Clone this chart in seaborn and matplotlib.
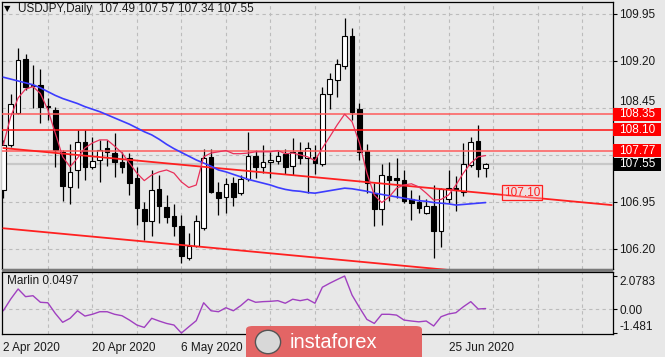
import numpy as np
import pandas as pd
import matplotlib
matplotlib.use("Agg")
import matplotlib.pyplot as plt
import seaborn as sns
from matplotlib.patches import Rectangle, FancyBboxPatch, Circle
import matplotlib.transforms as mtrans

# USDJPY diario, velas (abr-jul 2020)
opens = [107.14, 107.86, 108.37, 109.23, 108.80, 108.82, 108.48, 108.42, 107.75, 107.19,
         107.46, 107.91, 107.51, 107.62, 107.81, 107.73, 107.59, 107.65, 107.33, 106.83,
         106.65, 107.16, 106.87, 106.73, 106.56, 106.05, 106.24, 106.53, 107.67, 107.11,
         107.03, 107.25, 107.09, 107.31, 107.68, 107.51, 107.59, 107.61, 107.71, 107.52,
         107.74, 107.65, 107.67, 107.56, 108.68, 108.89, 109.12, 109.60, 108.43, 107.76,
         107.10, 106.83, 107.37, 107.33, 107.30, 106.99, 106.95, 106.77, 106.88, 106.48,
         106.99, 107.18, 107.11, 107.54, 107.93, 107.49]
highs = [107.94, 108.68, 109.40, 109.31, 109.14, 109.07, 108.61, 108.47, 107.78, 107.88,
         108.09, 108.09, 107.99, 107.94, 107.94, 108.05, 107.75, 107.73, 107.51, 106.95,
         107.46, 107.38, 107.06, 106.92, 106.74, 106.45, 106.74, 107.79, 107.79, 107.27,
         107.33, 107.35, 107.38, 108.07, 107.78, 107.86, 107.75, 107.78, 107.79, 107.97,
         107.91, 107.91, 107.86, 108.79, 109.00, 109.23, 109.88, 109.72, 108.53, 107.87,
         107.26, 107.56, 107.58, 107.65, 107.46, 107.14, 107.06, 106.99, 107.22, 107.17,
         107.46, 107.36, 107.89, 107.99, 108.18, 107.57]
lows = [107.01, 107.82, 108.35, 108.74, 108.45, 108.21, 108.26, 107.51, 106.97, 106.92,
        107.18, 107.30, 107.48, 107.27, 107.52, 107.35, 107.41, 107.06, 106.58, 106.34,
        106.40, 106.61, 106.61, 106.40, 105.97, 106.02, 106.23, 106.50, 107.10, 106.74,
        106.77, 106.88, 107.06, 107.29, 107.33, 107.41, 107.33, 107.56, 107.40, 107.38,
        107.56, 107.10, 107.40, 107.52, 108.43, 108.62, 109.07, 108.26, 107.62, 107.10,
        106.57, 106.58, 106.97, 107.01, 106.94, 106.66, 106.77, 106.76, 106.05, 106.23,
        106.93, 106.80, 107.05, 107.51, 107.35, 107.34]
closes = [107.86, 108.51, 109.22, 108.79, 108.82, 108.46, 108.47, 107.78, 107.21, 107.43,
          107.90, 107.51, 107.60, 107.78, 107.74, 107.58, 107.50, 107.25, 106.85, 106.64,
          107.14, 106.89, 106.71, 106.57, 106.08, 106.25, 106.64, 107.65, 107.11, 107.01,
          107.24, 107.03, 107.31, 107.69, 107.51, 107.58, 107.62, 107.69, 107.51, 107.74,
          107.65, 107.81, 107.57, 108.67, 108.91, 109.15, 109.60, 108.39, 107.74, 107.25,
          106.83, 107.38, 107.30, 107.30, 106.97, 106.94, 106.85, 106.89, 106.49, 107.15,
          107.17, 107.14, 107.56, 107.91, 107.47, 107.55]

# media lenta (azul) y media rapida (roja)
ma_slow = [108.94, 108.91, 108.88, 108.85, 108.82, 108.77, 108.71, 108.65, 108.60, 108.56,
           108.52, 108.47, 108.43, 108.39, 108.34, 108.29, 108.24, 108.19, 108.13, 108.07,
           108.02, 107.95, 107.87, 107.80, 107.74, 107.68, 107.62, 107.57, 107.52, 107.46,
           107.43, 107.39, 107.35, 107.31, 107.28, 107.25, 107.22, 107.18, 107.15, 107.13,
           107.12, 107.10, 107.09, 107.11, 107.13, 107.15, 107.17, 107.16, 107.14, 107.12,
           107.09, 107.07, 107.05, 107.03, 107.01, 106.99, 106.97, 106.96, 106.94, 106.93,
           106.92, 106.90, 106.91, 106.92, 106.93, 106.94]
ma_fast = [107.86, 108.31, 108.61, 108.75, 108.79, 108.68, 108.42, 108.05, 107.67, 107.51,
           107.65, 107.81, 107.89, 107.94, 107.94, 107.84, 107.73, 107.57, 107.41, 107.29,
           107.38, 107.43, 107.46, 107.41, 107.27, 107.18, 107.22, 107.67, 107.73, 107.75,
           107.77, 107.72, 107.72, 107.73, 107.75, 107.75, 107.75, 107.77, 107.72, 107.73,
           107.70, 107.67, 107.61, 107.81, 107.99, 108.18, 108.35, 108.23, 107.89, 107.41,
           107.06, 106.94, 107.03, 107.17, 107.22, 107.24, 107.19, 107.09, 106.98, 106.99,
           107.06, 107.22, 107.41, 107.57, 107.67, 107.69]

# oscilador Marlin
marlin = [-0.09, 0.64, 1.27, 0.79, 0.85, 0.44, 0.41, -0.25, -0.81, -0.56,
          -0.09, -0.42, -0.31, -0.15, -0.15, -0.31, -0.40, -0.67, -0.98, -1.13,
          -0.56, -0.73, -0.88, -0.98, -1.481, -1.09, -0.71, 0.41, -0.09, -0.15,
          0.10, -0.09, 0.23, 0.63, 0.44, 0.48, 0.50, 0.54, 0.38, 0.63,
          0.54, 0.63, 0.38, 1.38, 1.63, 1.86, 2.0783, 0.89, 0.11, -0.63,
          -0.88, -0.31, -0.31, -0.36, -0.67, -0.73, -0.78, -0.73, -1.04, -0.46,
          -0.29, -0.21, 0.16, 0.48, 0.02, 0.0497]

# niveles horizontales y canal bajista
levels = [108.35, 108.10, 107.77]
level_colors = ["#ff5a5a", "#ff1010", "#ff5a5a"]
channel_bars = [0, 82]
channel_top = [107.81, 106.90]
channel_bottom = [106.53, 105.62]
channel_label = 107.10

price_ticks = [109.95, 109.20, 108.45, 106.95, 106.20]
grid_prices = [109.95, 109.20, 108.45, 107.70, 106.95, 106.20]
# las fechas del 22 May y 9 Jun quedan tapadas por el logo en el original
date_bars = [0, 12, 24, 60]
date_labels = ["2 Apr 2020", "20 Apr 2020", "6 May 2020", "25 Jun 2020"]

df = pd.DataFrame({"bar": np.arange(len(closes)), "open": opens, "high": highs,
                   "low": lows, "close": closes, "ma_slow": ma_slow,
                   "ma_fast": ma_fast, "marlin": marlin})

sns.set_style("white")
plt.rcParams["font.family"] = ["Liberation Sans", "DejaVu Sans"]
bg = "#e8e8e8"

W, H = 665, 357
fig = plt.figure(figsize=(W / 100, H / 100), dpi=100, facecolor=bg)
ax = fig.add_axes([2 / W, 88 / H, 610.5 / W, 267 / H], facecolor=bg)
ax2 = fig.add_axes([2 / W, 23 / H, 610.5 / W, 62 / H], facecolor=bg)

xmin, xmax = -0.175, 82.1
fs = 8.5

# --- panel principal ---
for p in grid_prices:
    ax.axhline(p, color="#bcbcbc", lw=0.8, ls=(0, (3, 3)), zorder=0)
for b in range(6, 84, 6):
    ax.axvline(b, color="#bcbcbc", lw=0.8, ls=(0, (3, 3)), zorder=0)
    ax2.axvline(b, color="#bcbcbc", lw=0.8, ls=(0, (3, 3)), zorder=0)

# linea de precio actual
ax.axhline(closes[-1], color="#c8c8c8", lw=1.6, zorder=1)

ax.vlines(df["bar"], df["low"], df["high"], color="black", lw=0.9, zorder=2)
up = df["close"] >= df["open"]
body = (df["close"] - df["open"]).abs().clip(lower=0.012)
ax.bar(df["bar"], body, bottom=df[["open", "close"]].min(axis=1), width=0.62,
       color=np.where(up, "white", "black"), edgecolor="black", lw=0.8, zorder=3)

for lv, col in zip(levels, level_colors):
    ax.axhline(lv, color=col, lw=1.1, zorder=4)

ax.plot(channel_bars, channel_top, color="#ff2020", lw=1.3, zorder=4)
ax.plot(channel_bars, channel_bottom, color="#ff2020", lw=1.3, zorder=4)

sns.lineplot(data=df, x="bar", y="ma_slow", ax=ax, color="#3c3cff", lw=1.2, zorder=5)
sns.lineplot(data=df, x="bar", y="ma_fast", ax=ax, color="#e8305a", lw=0.9, zorder=5)

ax.text(69.9, channel_label, f"{channel_label:.2f}", color="#ff2020", fontsize=fs,
        ha="center", va="center", zorder=6,
        bbox=dict(boxstyle="square,pad=0.15", fc=(1, 0.8, 0.8, 0.35), ec="#ff2020", lw=0.9))

ax.set_xlim(xmin, xmax)
ax.set_ylim(105.88, 110.14)
ax.set_xlabel("")
ax.set_ylabel("")
ax.set_xticks([])
ax.yaxis.tick_right()
ax.set_yticks(price_ticks)
ax.set_yticklabels([f"{p:.2f}" for p in price_ticks], fontsize=fs, color="#1a1a1a")
ax.tick_params(axis="y", direction="out", length=3, width=0.8, pad=2, color="black")
# el 108.45 queda pegado encima de la caja del 108.35
lab_up = mtrans.ScaledTranslation(0, 5 / 72, fig.dpi_scale_trans)
ax.get_yticklabels()[2].set_transform(ax.get_yticklabels()[2].get_transform() + lab_up)
for s in ax.spines.values():
    s.set_color("black")
    s.set_linewidth(0.9)

# etiquetas de precio a la derecha
trans = mtrans.blended_transform_factory(ax.transAxes, ax.transData)
px = 1 / 610.5
for lv, fc in [(108.35, "#ff0000"), (108.10, "#ff0000"), (107.77, "#ff0000"), (closes[-1], "black")]:
    ax.add_patch(Rectangle((1 + 1 * px, lv - 0.105), 48 * px, 0.21, transform=trans,
                           fc=fc, ec="none", clip_on=False, zorder=7))
    ax.text(1 + 25 * px, lv, f"{lv:.2f}", transform=trans, color="white", fontsize=fs,
            ha="center", va="center", clip_on=False, zorder=8)

ax.text(0.004, 0.975, "\u25bc", transform=ax.transAxes, fontsize=6, color="black",
        family="DejaVu Sans", ha="left", va="center")
ax.text(0.027, 0.975, "USDJPY,Daily  107.49 107.57 107.34 107.55", transform=ax.transAxes,
        fontsize=fs, color="#1a1a1a", ha="left", va="center")

# --- panel Marlin ---
ax2.axhline(0, color="#bcbcbc", lw=0.8, ls=(0, (3, 3)), zorder=0)
sns.lineplot(data=df, x="bar", y="marlin", ax=ax2, color="#a040c0", lw=1.0)
ax2.set_xlim(xmin, xmax)
ax2.set_ylim(-1.54, 2.33)
ax2.set_xlabel("")
ax2.set_ylabel("")
ax2.yaxis.tick_right()
ax2.set_yticks([2.0783, 0, -1.481])
ax2.set_yticklabels(["2.0783", "0.00", "-1.481"], fontsize=fs, color="#1a1a1a")
labs = ax2.get_yticklabels()
labs[0].set_va("top")
labs[2].set_va("bottom")
ax2.tick_params(axis="y", direction="out", length=3, width=0.8, pad=2, color="black")
ax2.set_xticks(date_bars)
ax2.set_xticklabels(date_labels, fontsize=fs, color="#1a1a1a", ha="left")
ax2.tick_params(axis="x", direction="out", length=4, width=0.8, pad=2, color="black")
for s in ax2.spines.values():
    s.set_color("black")
    s.set_linewidth(0.9)
ax2.text(0.008, 0.86, f"Marlin {marlin[-1]:.4f}", transform=ax2.transAxes,
         fontsize=fs, color="#1a1a1a", ha="left", va="center")

# separador entre paneles
fig.add_artist(Rectangle((2 / W, 85 / H), 610.5 / W, 3 / H, transform=fig.transFigure,
                         fc="#7a7a7a", ec="none", zorder=5))

# logo instaforex
fig.add_artist(FancyBboxPatch((246 / W, -4 / H), 176 / W, 35 / H,
                              boxstyle="round,pad=0,rounding_size=0.01",
                              transform=fig.transFigure, fc="#e36565", ec="none", zorder=6))
globe = fig.add_axes([254 / W, 2 / H, 28 / W, 26 / H])
globe.set_axis_off()
globe.add_patch(Circle((0.5, 0.5), 0.45, fc="#d8d8d8", ec="#555555", lw=1.0))
globe.set_xlim(0, 1)
globe.set_ylim(0, 1)
globe.set_zorder(7)
fig.text(290 / W, 15 / H, "instaforex", color="white", fontsize=14.5,
         ha="left", va="center", zorder=8)

fig.savefig("out.png", dpi=100, facecolor=bg)
